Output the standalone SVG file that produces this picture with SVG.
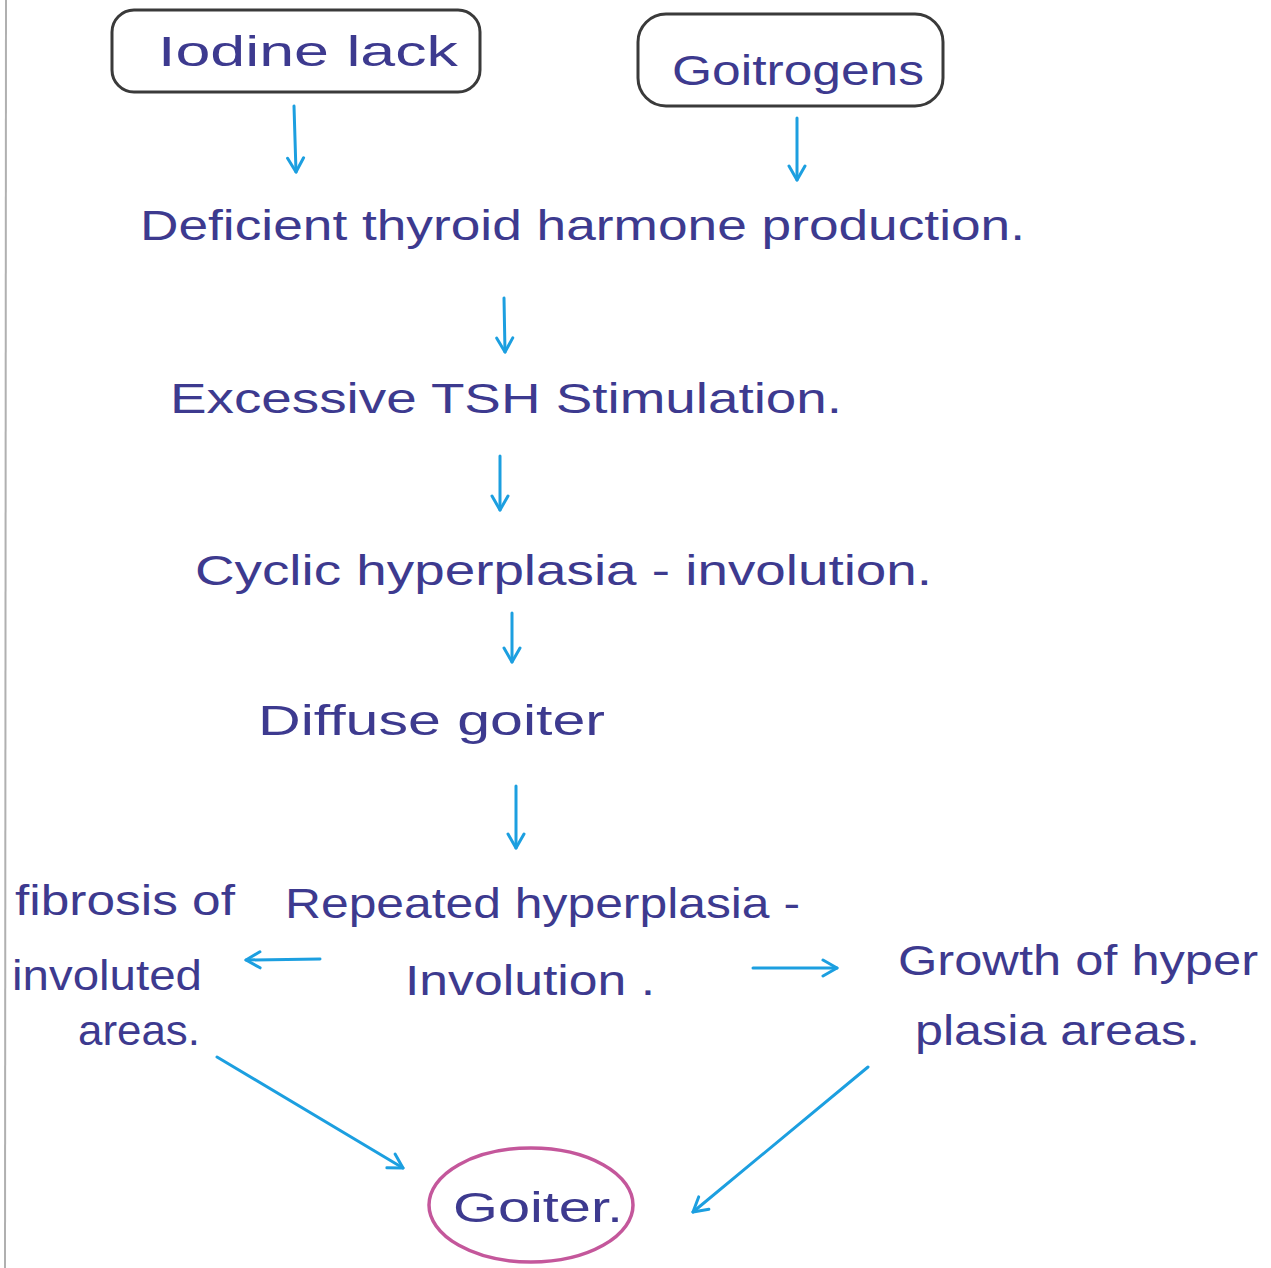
<svg xmlns="http://www.w3.org/2000/svg" width="1271" height="1268" viewBox="0 0 1271 1268">
<defs>
<marker id="ah" viewBox="0 0 20 20" refX="18" refY="10" markerWidth="20" markerHeight="20" markerUnits="userSpaceOnUse" orient="auto">
<path d="M4,2 L18,10 L4,18" fill="none" stroke="#1c9fe0" stroke-width="3" stroke-linecap="round" stroke-linejoin="round"/>
</marker>
<style>
.t{font-family:"Liberation Sans","DejaVu Sans",sans-serif;fill:#3d3a8f;font-size:42px;}
.box{fill:none;stroke:#3a3a3a;stroke-width:3;}
.c{fill:none;stroke:#1c9fe0;stroke-width:3;stroke-linecap:round;marker-end:url(#ah);}
</style>
</defs>
<rect width="1271" height="1268" fill="#ffffff"/>
<line x1="6" y1="0" x2="5" y2="1268" stroke="#b0b0b0" stroke-width="2"/>
<g id="iodine">
<rect class="box" x="112" y="10" width="368" height="82" rx="22"/>
<text class="t" x="158" y="66" textLength="300" lengthAdjust="spacingAndGlyphs">Iodine lack</text>
</g>
<g id="goitrogens">
<rect class="box" x="638" y="14" width="305" height="92" rx="28"/>
<text class="t" x="672" y="85" textLength="252" lengthAdjust="spacingAndGlyphs">Goitrogens</text>
</g>
<g id="deficient">
<text class="t" x="140" y="240" textLength="885" lengthAdjust="spacingAndGlyphs">Deficient thyroid harmone production.</text>
</g>
<g id="tsh">
<text class="t" x="170" y="413" textLength="672" lengthAdjust="spacingAndGlyphs">Excessive TSH Stimulation.</text>
</g>
<g id="cyclic">
<text class="t" x="195" y="585" textLength="737" lengthAdjust="spacingAndGlyphs">Cyclic hyperplasia - involution.</text>
</g>
<g id="diffuse">
<text class="t" x="258" y="735" textLength="347" lengthAdjust="spacingAndGlyphs">Diffuse goiter</text>
</g>
<g id="repeated">
<text class="t" x="285" y="918" textLength="515" lengthAdjust="spacingAndGlyphs">Repeated hyperplasia -</text>
<text class="t" x="405" y="995" textLength="250" lengthAdjust="spacingAndGlyphs">Involution .</text>
</g>
<g id="fibrosis">
<text class="t" x="15" y="915" textLength="220" lengthAdjust="spacingAndGlyphs">fibrosis of</text>
<text class="t" x="12" y="990" textLength="190" lengthAdjust="spacingAndGlyphs">involuted</text>
<text class="t" x="78" y="1045" textLength="122" lengthAdjust="spacingAndGlyphs">areas.</text>
</g>
<g id="growth">
<text class="t" x="898" y="975" textLength="360" lengthAdjust="spacingAndGlyphs">Growth of hyper</text>
<text class="t" x="915" y="1045" textLength="285" lengthAdjust="spacingAndGlyphs">plasia areas.</text>
</g>
<g id="goiter">
<ellipse cx="531" cy="1205" rx="102" ry="57" fill="none" stroke="#c4579b" stroke-width="3.5"/>
<text class="t" x="453" y="1222" textLength="170" lengthAdjust="spacingAndGlyphs">Goiter.</text>
</g>
<g id="connectors">
<line class="c" x1="294" y1="106" x2="296" y2="172"/>
<line class="c" x1="797" y1="118" x2="797" y2="180"/>
<line class="c" x1="504" y1="298" x2="505" y2="352"/>
<line class="c" x1="500" y1="456" x2="500" y2="510"/>
<line class="c" x1="512" y1="613" x2="512" y2="662"/>
<line class="c" x1="516" y1="786" x2="516" y2="848"/>
<line class="c" x1="320" y1="959" x2="246" y2="960"/>
<line class="c" x1="753" y1="968" x2="837" y2="968"/>
<line class="c" x1="217" y1="1057" x2="403" y2="1168"/>
<line class="c" x1="868" y1="1067" x2="693" y2="1212"/>
</g>
</svg>
